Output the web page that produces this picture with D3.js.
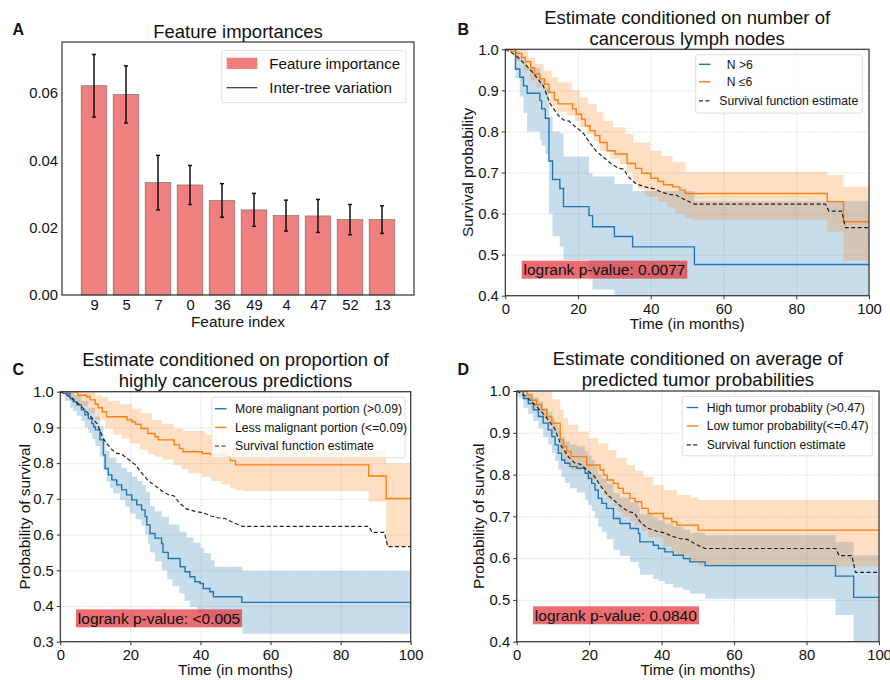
<!DOCTYPE html>
<html lang="en">
<head>
<meta charset="UTF-8">
<title>Survival figure</title>
<style>
  body { margin: 0; background: #fff; }
  svg { font-family: "Liberation Sans", Arial, sans-serif; }
</style>
</head>
<body>
<script src="https://d3js.org/d3.v7.min.js"></script>
<script>
// ---------- data: panel A ----------
const featureIndex = ["9", "5", "7", "0", "36", "49", "4", "47", "52", "13"];
const featureImportance = [0.0622, 0.0596, 0.0334, 0.0327, 0.0281, 0.0253, 0.0236, 0.0235, 0.0224, 0.0224];
const featureStd = [0.0093, 0.0085, 0.0081, 0.0058, 0.0050, 0.0049, 0.0046, 0.0049, 0.0045, 0.0041];
const importanceTicks = [0, 0.02, 0.04, 0.06];

// ---------- data: survival curves, [month, probability] ----------
const timeTicks = [0, 20, 40, 60, 80, 100];

// overall estimate (same in B, C, D)
const overallSurv = [[0,1],[1.5,0.993],[3,0.984],[5.4,0.964],[7.7,0.942],[10.5,0.91],[12.3,0.868],[14.5,0.84],[16,0.828],[17.5,0.825],[19.5,0.81],[21.5,0.795],[23,0.775],[25,0.752],[27,0.737],[29,0.722],[31,0.711],[32.5,0.708],[34,0.688],[36,0.672],[38.5,0.665],[41,0.66],[43,0.652],[45,0.647],[47,0.645],[49.5,0.633],[52,0.623],[88,0.623],[89,0.606],[92.5,0.606],[93.5,0.566],[100,0.566]];

// B: lymph nodes N >6
const lymphHighSurv = [[0,1],[2.8,0.952],[4,0.932],[5,0.911],[6,0.893],[9.5,0.875],[10,0.855],[11,0.832],[12,0.728],[13,0.683],[15,0.661],[16,0.617],[23,0.595],[24,0.568],[30,0.544],[35,0.519],[52,0.476]];
const lymphHighUpper = [[0,1],[2.8,0.995],[4,0.985],[5,0.97],[6,0.955],[9.5,0.94],[10,0.925],[11,0.905],[12,0.835],[13,0.8],[15,0.795],[16,0.739],[23,0.698],[24,0.69],[30,0.672],[35,0.655],[52,0.63]];
const lymphHighLower = [[0,1],[2.8,0.93],[4,0.885],[5,0.845],[6,0.8],[9.5,0.78],[10,0.765],[11,0.745],[12,0.6],[13,0.545],[15,0.52],[16,0.487],[23,0.45],[24,0.415],[30,0.385],[35,0.36],[52,0.33]];
// B: lymph nodes N <=6
const lymphLowSurv = [[0,1],[1.5,0.995],[3,0.99],[4.5,0.98],[5.5,0.97],[7,0.955],[8,0.94],[9.5,0.928],[10.8,0.915],[12,0.895],[13.5,0.877],[14.5,0.867],[18.5,0.855],[19.5,0.842],[21,0.83],[22,0.814],[23.3,0.802],[24.7,0.79],[26,0.773],[28,0.753],[30.2,0.745],[33.5,0.722],[35.8,0.71],[37.5,0.698],[40,0.686],[42,0.678],[43.5,0.67],[46,0.665],[48,0.657],[49.5,0.649],[88.5,0.629],[93,0.58]];
const lymphLowUpper = [[0,1],[5,1],[6.3,0.98],[8.2,0.965],[10.5,0.948],[12.8,0.932],[14.6,0.92],[18.3,0.9],[20.5,0.883],[22.8,0.867],[25.1,0.847],[27,0.826],[29.7,0.81],[33,0.794],[35.2,0.773],[39.8,0.753],[43,0.74],[46,0.725],[49.5,0.702],[88.5,0.694],[93,0.665]];
const lymphLowLower = [[0,1],[1.5,0.99],[3,0.972],[5,0.948],[6.8,0.924],[8.6,0.907],[10.9,0.89],[12.3,0.863],[14.1,0.847],[16.9,0.838],[19.2,0.826],[20.5,0.81],[22.4,0.794],[24.2,0.777],[26,0.753],[28.8,0.733],[31.5,0.721],[33.4,0.7],[35,0.675],[36.5,0.66],[38.4,0.641],[42,0.629],[44.5,0.615],[46.7,0.6],[49.4,0.588],[52,0.584],[88.5,0.556],[93,0.485]];

// C: more malignant portion (>0.09)
const malignHighSurv = [[0,1],[1.3,0.995],[2.8,0.981],[3.7,0.972],[4.7,0.963],[6,0.949],[7,0.935],[8,0.925],[9,0.911],[9.5,0.902],[10,0.893],[11.3,0.865],[12.3,0.823],[12.8,0.785],[13.7,0.767],[14.7,0.753],[16.1,0.739],[17.5,0.725],[18.9,0.711],[20.4,0.697],[21.8,0.683],[23.2,0.669],[24.2,0.65],[24.7,0.627],[25.6,0.603],[27,0.59],[28.9,0.575],[29.3,0.55],[30.8,0.533],[34.2,0.51],[35.6,0.496],[37,0.482],[38.4,0.468],[39.9,0.463],[40.8,0.449],[42.7,0.44],[43.7,0.426],[51.8,0.41]];
const malignHighUpper = [[0,1],[4,0.99],[6,0.975],[8,0.955],[10,0.93],[11.3,0.905],[12.3,0.87],[12.8,0.835],[14,0.815],[16,0.8],[17.5,0.787],[19,0.775],[20.5,0.762],[22,0.75],[23.5,0.738],[24.5,0.72],[25.6,0.68],[27,0.665],[29,0.65],[31,0.628],[34,0.608],[36,0.592],[38,0.577],[40,0.562],[41,0.548],[43,0.528],[44,0.51],[52,0.498]];
const malignHighLower = [[0,1],[1.3,0.975],[2.8,0.955],[3.7,0.945],[4.7,0.933],[6,0.918],[7,0.9],[8,0.885],[9,0.868],[10,0.848],[11.3,0.818],[12.3,0.78],[13.2,0.748],[14.2,0.73],[15.1,0.716],[17,0.697],[18.5,0.678],[19.9,0.659],[21.5,0.643],[23.2,0.625],[24.2,0.6],[25,0.575],[25.6,0.55],[27,0.525],[29,0.5],[30.5,0.475],[32,0.455],[34,0.435],[35.5,0.415],[37,0.398],[39,0.38],[41,0.365],[43.7,0.342],[52,0.322]];
// C: less malignant portion (<=0.09)
const malignLowSurv = [[0,1],[5,0.99],[7.5,0.986],[8.5,0.977],[10,0.965],[10.8,0.955],[12,0.944],[13.2,0.93],[19,0.921],[20.5,0.915],[21.5,0.909],[23,0.897],[25,0.883],[27,0.874],[28,0.865],[32.5,0.851],[34,0.841],[35,0.832],[40.5,0.827],[43,0.823],[47,0.818],[48.5,0.807],[50,0.795],[88,0.764],[93,0.701]];
const malignLowUpper = [[0,1],[8,1],[10,0.99],[12,0.985],[13.7,0.975],[17,0.965],[20.4,0.953],[23,0.94],[26.1,0.921],[29,0.91],[32.3,0.897],[35,0.89],[41.3,0.879],[45,0.865],[48.5,0.85],[50,0.84],[52,0.837],[93,0.8]];
const malignLowLower = [[0,1],[3,0.975],[5,0.96],[8,0.94],[10,0.92],[12.8,0.897],[15,0.88],[17.5,0.869],[20,0.855],[22.8,0.837],[25,0.825],[27,0.818],[29,0.81],[32.3,0.795],[34.5,0.783],[36.5,0.771],[40.4,0.762],[43,0.75],[46,0.74],[48.5,0.73],[50,0.725],[52,0.722],[88,0.692],[93,0.566]];

// D: high tumor probability (>0.47)
const tumorHighSurv = [[0,1],[1.8,0.982],[3.2,0.97],[4.6,0.955],[6,0.939],[7.3,0.923],[8.7,0.907],[9.7,0.891],[10.6,0.871],[11.5,0.851],[12.4,0.835],[13.3,0.827],[14.7,0.819],[16.6,0.815],[18.9,0.803],[19.8,0.791],[20.7,0.779],[21.6,0.763],[22.5,0.743],[23.5,0.731],[24.8,0.719],[26.7,0.695],[28.5,0.683],[31.3,0.671],[33.6,0.659],[34,0.639],[37.7,0.631],[39.1,0.623],[40.9,0.615],[43.2,0.607],[46,0.599],[47.8,0.591],[52,0.582],[88,0.557],[93,0.506]];
const tumorHighUpper = [[0,1],[3.2,0.995],[4.6,0.985],[6,0.975],[7.3,0.96],[8.7,0.95],[9.7,0.935],[10.6,0.92],[11.5,0.905],[12.4,0.89],[13.3,0.88],[14.7,0.872],[16.6,0.868],[18.9,0.855],[19.8,0.845],[20.7,0.835],[21.6,0.82],[22.5,0.8],[23.5,0.79],[24.8,0.778],[26.7,0.755],[28.5,0.745],[31.3,0.733],[33.6,0.722],[34,0.705],[37.7,0.698],[39.1,0.69],[40.9,0.683],[43.2,0.676],[46,0.668],[47.8,0.661],[52,0.655],[88,0.639],[93,0.607]];
const tumorHighLower = [[0,0.985],[1.8,0.96],[3.2,0.945],[4.6,0.928],[6,0.91],[7.3,0.89],[8.7,0.872],[9.7,0.853],[10.6,0.833],[11.5,0.812],[12.4,0.795],[13.3,0.78],[14.7,0.767],[16.6,0.757],[18.9,0.74],[19.8,0.727],[20.7,0.713],[21.6,0.695],[22.5,0.675],[23.5,0.663],[24.8,0.645],[26.7,0.62],[28.5,0.605],[31.3,0.591],[33.6,0.577],[34,0.56],[37.7,0.55],[39.1,0.545],[40.9,0.538],[43.2,0.53],[46,0.524],[47.8,0.515],[52,0.503],[88,0.464],[93,0.39]];
// D: low tumor probability (<=0.47)
const tumorLowSurv = [[0,1],[2.8,0.99],[4.1,0.978],[5.5,0.967],[6.9,0.955],[8.3,0.939],[9.7,0.923],[12,0.883],[12.9,0.867],[13.8,0.855],[15,0.843],[19.3,0.823],[23,0.811],[24,0.799],[25,0.787],[26.7,0.779],[28,0.767],[29.4,0.755],[31.3,0.743],[32.7,0.735],[34.5,0.719],[36.3,0.707],[40.5,0.695],[42.8,0.687],[44.2,0.679],[50.1,0.667]];
const tumorLowUpper = [[0,1],[8.3,1],[9.7,0.98],[12,0.955],[13,0.935],[14.2,0.919],[17,0.903],[19.8,0.887],[22.5,0.875],[25.3,0.859],[27.5,0.84],[30.4,0.823],[32.7,0.81],[34.9,0.795],[37.7,0.775],[40.5,0.763],[44.2,0.751],[48,0.745],[50.1,0.739]];
const tumorLowLower = [[0,1],[2.8,0.975],[4.1,0.959],[5.5,0.948],[6.9,0.933],[8.3,0.917],[9.7,0.899],[12,0.855],[12.9,0.835],[13.8,0.822],[15,0.81],[19.3,0.785],[23,0.765],[24,0.75],[25,0.738],[26.7,0.725],[28,0.71],[29.4,0.7],[31.3,0.688],[32.7,0.678],[34.5,0.665],[36.3,0.65],[40.5,0.628],[42.8,0.615],[44.2,0.605],[47.8,0.59],[50.1,0.58]];

// ---------- drawing ----------
const blue = "#1f77b4", orange = "#ff7f0e";
const svg = d3.select("body").append("svg").attr("width", 890).attr("height", 680);

// value of a step function at time t
const stepVal = (arr, t) => {
  let v = arr[0][1];
  for (const d of arr) { if (d[0] <= t) v = d[1]; else break; }
  return v;
};
const bandRows = (lower, upper, tmax) => {
  const ts = Array.from(new Set(lower.concat(upper).map(d => d[0]).concat([tmax]))).sort((a, b) => a - b);
  return ts.map(t => ({ t: t, lo: stepVal(lower, t), hi: stepVal(upper, t) }));
};
const lineRows = (arr, tmax) => arr.concat([[tmax, arr[arr.length - 1][1]]]);

function panelLetter(txt, x, y) {
  svg.append("text").attr("x", x).attr("y", y).attr("font-size", 16).attr("font-weight", "bold").attr("fill", "#111").text(txt);
}

// ---------------- Panel A ----------------
(function () {
  const L = 62, R = 414, T = 42, B = 295;
  const x = d3.scaleLinear().domain([-1, 10]).range([L, R]);
  const y = d3.scaleLinear().domain([0, 0.0752]).range([B, T]);
  const g = svg.append("g");
  const idx = d3.range(featureIndex.length);

  g.selectAll("rect.bar").data(idx).enter().append("rect")
    .attr("class", "bar")
    .attr("x", i => x(i - 0.4))
    .attr("width", x(0.8) - x(0))
    .attr("y", i => y(featureImportance[i]))
    .attr("height", i => y(0) - y(featureImportance[i]))
    .attr("fill", "#f08080").attr("stroke", "#777").attr("stroke-width", 0.7);

  // inter-tree variation
  const eb = g.selectAll("g.err").data(idx).enter().append("g").attr("stroke", "#111").attr("stroke-width", 1.5);
  eb.append("line").attr("x1", i => x(i)).attr("x2", i => x(i))
    .attr("y1", i => y(featureImportance[i] - featureStd[i])).attr("y2", i => y(featureImportance[i] + featureStd[i]));
  eb.append("line").attr("x1", i => x(i) - 2).attr("x2", i => x(i) + 2)
    .attr("y1", i => y(featureImportance[i] + featureStd[i])).attr("y2", i => y(featureImportance[i] + featureStd[i]));
  eb.append("line").attr("x1", i => x(i) - 2).attr("x2", i => x(i) + 2)
    .attr("y1", i => y(featureImportance[i] - featureStd[i])).attr("y2", i => y(featureImportance[i] - featureStd[i]));

  g.append("g").attr("transform", "translate(" + L + ",0)")
    .call(d3.axisLeft(y).tickValues(importanceTicks).tickFormat(d3.format(".2f")).tickSize(0).tickPadding(4))
    .call(a => a.select(".domain").remove())
    .selectAll("text").attr("font-size", 14.8).attr("font-family", null).attr("fill", "#111");
  g.append("g").attr("transform", "translate(0," + B + ")")
    .call(d3.axisBottom(x).tickValues(idx).tickFormat(i => featureIndex[i]).tickSize(0).tickPadding(4.5))
    .call(a => a.select(".domain").remove())
    .selectAll("text").attr("font-size", 14.8).attr("font-family", null).attr("fill", "#111");

  g.append("rect").attr("x", L).attr("y", T).attr("width", R - L).attr("height", B - T)
    .attr("fill", "none").attr("stroke", "#333").attr("stroke-width", 1.2);

  g.append("text").attr("x", (L + R) / 2).attr("y", 38).attr("text-anchor", "middle")
    .attr("font-size", 18.5).attr("fill", "#111").text("Feature importances");
  g.append("text").attr("x", (L + R) / 2).attr("y", 326.5).attr("text-anchor", "middle")
    .attr("font-size", 15.4).attr("fill", "#111").text("Feature index");

  // legend
  const lg = g.append("g").attr("transform", "translate(221.7,50.7)");
  lg.append("rect").attr("width", 184.3).attr("height", 52).attr("rx", 2)
    .attr("fill", "#fff").attr("fill-opacity", 0.8).attr("stroke", "#e0e0e0");
  lg.append("rect").attr("x", 5).attr("y", 7).attr("width", 30.6).attr("height", 11.3).attr("fill", "#f08080");
  lg.append("line").attr("x1", 5).attr("x2", 35.6).attr("y1", 37).attr("y2", 37).attr("stroke", "#333").attr("stroke-width", 1.2);
  lg.append("text").attr("x", 47.6).attr("y", 18.2).attr("font-size", 15.1).attr("fill", "#111").text("Feature importance");
  lg.append("text").attr("x", 47.6).attr("y", 42.4).attr("font-size", 15.1).attr("fill", "#111").text("Inter-tree variation");

  panelLetter("A", 12.5, 35);
})();

// ---------------- Panels B, C, D ----------------
function kmPanel(p) {
  const x = d3.scaleLinear().domain([0, 100]).range([p.L, p.R]);
  const y = d3.scaleLinear().domain(p.yDomain).range([p.B, p.T]);
  const g = svg.append("g");
  const clipId = "clip" + p.letter;
  svg.append("clipPath").attr("id", clipId).append("rect")
    .attr("x", p.L).attr("y", p.T).attr("width", p.R - p.L).attr("height", p.B - p.T);

  // grid
  g.append("g").attr("transform", "translate(0," + p.B + ")")
    .call(d3.axisBottom(x).tickValues(timeTicks).tickSize(-(p.B - p.T)).tickFormat(""))
    .call(a => a.select(".domain").remove())
    .selectAll("line").attr("stroke", "#dcdcdc").attr("stroke-width", 0.8).attr("stroke-dasharray", "2,1");
  g.append("g").attr("transform", "translate(" + p.L + ",0)")
    .call(d3.axisLeft(y).tickValues(p.yTicks).tickSize(-(p.R - p.L)).tickFormat(""))
    .call(a => a.select(".domain").remove())
    .selectAll("line").attr("stroke", "#dcdcdc").attr("stroke-width", 0.8).attr("stroke-dasharray", "2,1");

  const plot = g.append("g").attr("clip-path", "url(#" + clipId + ")");
  const area = d3.area().x(d => x(d.t)).y0(d => y(d.lo)).y1(d => y(d.hi)).curve(d3.curveStepAfter);
  const step = d3.line().x(d => x(d[0])).y(d => y(d[1])).curve(d3.curveStepAfter);
  const straight = d3.line().x(d => x(d[0])).y(d => y(d[1]));

  p.series.forEach(s => {
    plot.append("path").attr("d", area(bandRows(s.lower, s.upper, 100)))
      .attr("fill", s.color).attr("fill-opacity", 0.25);
  });
  p.series.forEach(s => {
    plot.append("path").attr("d", step(lineRows(s.surv, 100)))
      .attr("fill", "none").attr("stroke", s.color).attr("stroke-width", 1.4);
  });
  plot.append("path").attr("d", straight(overallSurv))
    .attr("fill", "none").attr("stroke", "#222").attr("stroke-width", 1.2).attr("stroke-dasharray", "4,2.5");

  // axes
  g.append("g").attr("transform", "translate(" + p.L + ",0)")
    .call(d3.axisLeft(y).tickValues(p.yTicks).tickFormat(d3.format(".1f")).tickSize(3.5).tickPadding(3))
    .call(a => a.select(".domain").remove())
    .call(a => a.selectAll("line").attr("stroke", "#333"))
    .selectAll("text").attr("font-size", 14.8).attr("font-family", null).attr("fill", "#111");
  g.append("g").attr("transform", "translate(0," + p.B + ")")
    .call(d3.axisBottom(x).tickValues(timeTicks).tickSize(3.5).tickPadding(4))
    .call(a => a.select(".domain").remove())
    .call(a => a.selectAll("line").attr("stroke", "#333"))
    .selectAll("text").attr("font-size", 14.8).attr("font-family", null).attr("fill", "#111");

  g.append("rect").attr("x", p.L).attr("y", p.T).attr("width", p.R - p.L).attr("height", p.B - p.T)
    .attr("fill", "none").attr("stroke", "#333").attr("stroke-width", 1.2);

  // titles and labels
  const cx = (p.L + p.R) / 2;
  p.title.forEach((t, i) => {
    g.append("text").attr("x", cx).attr("y", p.titleY + i * 20.5).attr("text-anchor", "middle")
      .attr("font-size", 18.5).attr("fill", "#111").text(t);
  });
  g.append("text").attr("x", cx).attr("y", p.xLabelY).attr("text-anchor", "middle")
    .attr("font-size", 15.4).attr("fill", "#111").text("Time (in months)");
  g.append("text").attr("transform", "translate(" + p.yLabelX + "," + ((p.T + p.B) / 2) + ") rotate(-90)")
    .attr("text-anchor", "middle").attr("font-size", 15.4).attr("fill", "#111").text(p.yLabel);

  // legend
  const lg = g.append("g").attr("transform", "translate(" + (p.R - p.legW - p.legInset) + "," + (p.T + 5.5) + ")");
  lg.append("rect").attr("width", p.legW).attr("height", p.legH).attr("rx", 2)
    .attr("fill", "#fff").attr("fill-opacity", 0.8).attr("stroke", "#e0e0e0");
  const entries = p.series.map(s => ({ label: s.label, color: s.color, dash: null, tx: p.legTextX + (s.indent || 0) }))
    .concat([{ label: "Survival function estimate", color: "#222", dash: "4,2.5", tx: p.legTextX }]);
  entries.forEach((e, i) => {
    const ry = p.legRows[i];
    lg.append("line").attr("x1", p.legLineX).attr("x2", p.legLineX + 11.5).attr("y1", ry).attr("y2", ry)
      .attr("stroke", e.color).attr("stroke-width", e.dash ? 1.2 : 1.4).attr("stroke-dasharray", e.dash);
    lg.append("text").attr("x", e.tx).attr("y", ry + 4.3).attr("font-size", 12.2).attr("fill", "#111").text(e.label);
  });

  // logrank box
  const lr = g.append("g");
  const txt = lr.append("text").attr("x", x(5)).attr("y", y(p.yDomain[0] + 0.05))
    .attr("font-size", 15.5).attr("fill", "#111").text(p.pText);
  const bb = txt.node().getBBox();
  lr.insert("rect", "text").attr("x", bb.x - 1.8).attr("y", bb.y - 0.5).attr("width", bb.width + 3.6).attr("height", bb.height + 1)
    .attr("fill", "rgb(225,40,45)").attr("fill-opacity", 0.68);

  panelLetter(p.letter, p.letterX, p.letterY);
}

kmPanel({
  letter: "B", letterX: 457.5, letterY: 35,
  L: 505.3, R: 869, T: 49.3, B: 295.7,
  yDomain: [0.4, 1.0], yTicks: [0.4, 0.5, 0.6, 0.7, 0.8, 0.9, 1.0],
  title: ["Estimate conditioned on number of", "cancerous lymph nodes"], titleY: 24,
  xLabelY: 329, yLabel: "Survival probability", yLabelX: 473,
  legW: 166.6, legH: 58.3, legInset: 6.7, legLineX: 3.3, legTextX: 23.6, legRows: [9.5, 27, 46],
  pText: "logrank p-value: 0.0077",
  series: [
    { label: "N >6", color: blue, surv: lymphHighSurv, lower: lymphHighLower, upper: lymphHighUpper, indent: 7.4 },
    { label: "N \u22646", color: orange, surv: lymphLowSurv, lower: lymphLowLower, upper: lymphLowUpper, indent: 7.4 }
  ]
});

kmPanel({
  letter: "C", letterX: 12.5, letterY: 375,
  L: 60.3, R: 410.7, T: 391.7, B: 641.7,
  yDomain: [0.3, 1.0], yTicks: [0.3, 0.4, 0.5, 0.6, 0.7, 0.8, 0.9, 1.0],
  title: ["Estimate conditioned on proportion of", "highly cancerous predictions"], titleY: 366,
  xLabelY: 675, yLabel: "Probability of survival", yLabelX: 29.5,
  legW: 193.3, legH: 60.6, legInset: 5.7, legLineX: 3.3, legTextX: 23.3, legRows: [11.5, 30.2, 48.8],
  pText: "logrank p-value: <0.005",
  series: [
    { label: "More malignant portion (>0.09)", color: blue, surv: malignHighSurv, lower: malignHighLower, upper: malignHighUpper },
    { label: "Less malignant portion (<=0.09)", color: orange, surv: malignLowSurv, lower: malignLowLower, upper: malignLowUpper }
  ]
});

kmPanel({
  letter: "D", letterX: 457.5, letterY: 375,
  L: 516.7, R: 879, T: 391, B: 641.7,
  yDomain: [0.4, 1.0], yTicks: [0.4, 0.5, 0.6, 0.7, 0.8, 0.9, 1.0],
  title: ["Estimate conditioned on average of", "predicted tumor probabilities"], titleY: 365,
  xLabelY: 675, yLabel: "Probability of survival", yLabelX: 484,
  legW: 190, legH: 59.3, legInset: 6.7, legLineX: 4.4, legTextX: 24.4, legRows: [11, 29.5, 48.3],
  pText: "logrank p-value: 0.0840",
  series: [
    { label: "High tumor probablity (>0.47)", color: blue, surv: tumorHighSurv, lower: tumorHighLower, upper: tumorHighUpper },
    { label: "Low tumor probability(<=0.47)", color: orange, surv: tumorLowSurv, lower: tumorLowLower, upper: tumorLowUpper }
  ]
});
</script>
</body>
</html>
